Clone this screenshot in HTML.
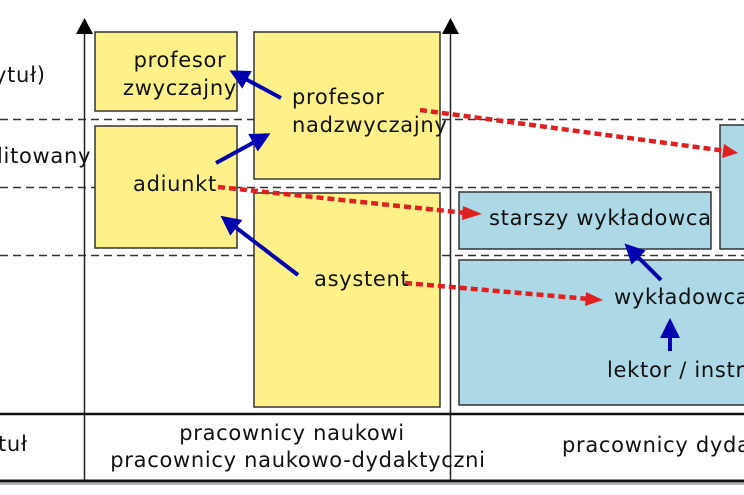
<!DOCTYPE html>
<html><head><meta charset="utf-8"><style>
html,body{margin:0;padding:0;background:#fff;width:744px;height:495px;overflow:hidden}
text{font-family:"DejaVu Sans","Liberation Sans",sans-serif;font-size:21px;letter-spacing:0.7px;fill:#111}
</style></head><body>
<svg width="744" height="495" viewBox="0 0 744 495" xmlns="http://www.w3.org/2000/svg">
<defs>
<marker id="bh" markerWidth="5" markerHeight="5" refX="2" refY="2.5" orient="auto" markerUnits="strokeWidth"><path d="M0,0 L5,2.5 L0,5 z" fill="#0000b0"/></marker>
</defs>
<g stroke="#333" stroke-width="1.4" stroke-dasharray="8,5">
<line x1="0" y1="119.5" x2="744" y2="119.5"/>
<line x1="0" y1="187.5" x2="744" y2="187.5"/>
<line x1="0" y1="255.5" x2="744" y2="255.5"/>
</g>
<g stroke="#333" stroke-width="1.5">
<rect x="95" y="32" width="142" height="79" fill="#fff18a"/>
<rect x="254" y="32" width="186" height="147" fill="#fff18a"/>
<rect x="95" y="126" width="142" height="122" fill="#fff18a"/>
<rect x="254" y="193" width="186" height="214" fill="#fff18a"/>
<rect x="459" y="192" width="252" height="57" fill="#add8e6"/>
<rect x="720" y="125" width="40" height="124" fill="#add8e6"/>
<rect x="459" y="260" width="300" height="145" fill="#add8e6"/>
</g>
<g stroke="#222" stroke-width="1.5">
<line x1="84.5" y1="30" x2="84.5" y2="481"/>
<line x1="450.5" y1="30" x2="450.5" y2="481"/>
</g>
<path d="M76,34 L84.5,18 L93,34 z" fill="#000"/>
<path d="M442,34 L450.5,18 L459,34 z" fill="#000"/>
<line x1="0" y1="414" x2="744" y2="414" stroke="#111" stroke-width="2.5"/>
<line x1="0" y1="481" x2="744" y2="481" stroke="#111" stroke-width="3"/>
<line x1="0" y1="484" x2="744" y2="484" stroke="#999" stroke-width="1.5"/>
<g stroke="#0000b0" stroke-width="4" marker-end="url(#bh)" fill="none">
<line x1="281" y1="98" x2="240" y2="76"/>
<line x1="216" y1="163" x2="260" y2="139"/>
<line x1="298" y1="275" x2="230" y2="223"/>
<line x1="661" y1="280" x2="633" y2="252"/>
<line x1="670" y1="351" x2="670" y2="330"/>
</g>
<g stroke="#e02020" stroke-width="4.5" stroke-dasharray="7,4" fill="none">
<line x1="420" y1="110" x2="726" y2="151"/>
<line x1="218" y1="187" x2="466" y2="213"/>
<line x1="405" y1="283" x2="589" y2="299"/>
</g>
<path d="M724,144 L738,153 L722,158 z" fill="#e02020"/>
<path d="M463,206 L482,214 L462,220 z" fill="#e02020"/>
<path d="M586,292 L603,300 L585,306 z" fill="#e02020"/>
<text x="180" y="67" text-anchor="middle">profesor</text>
<text x="180" y="95" text-anchor="middle">zwyczajny</text>
<text x="292" y="104">profesor</text>
<text x="292" y="132">nadzwyczajny</text>
<text x="133" y="191">adiunkt</text>
<text x="314" y="286">asystent</text>
<text x="489" y="225">starszy wykładowca</text>
<text x="614" y="304">wykładowca</text>
<text x="607" y="377">lektor / instruktor</text>
<text x="-6" y="82">ytuł)</text>
<text x="-3" y="163">litowany</text>
<text x="-2" y="451">tuł</text>
<text x="292" y="440" text-anchor="middle">pracownicy naukowi</text>
<text x="298" y="467" text-anchor="middle">pracownicy naukowo-dydaktyczni</text>
<text x="562" y="452">pracownicy dydaktyczni</text>
</svg>
</body></html>
